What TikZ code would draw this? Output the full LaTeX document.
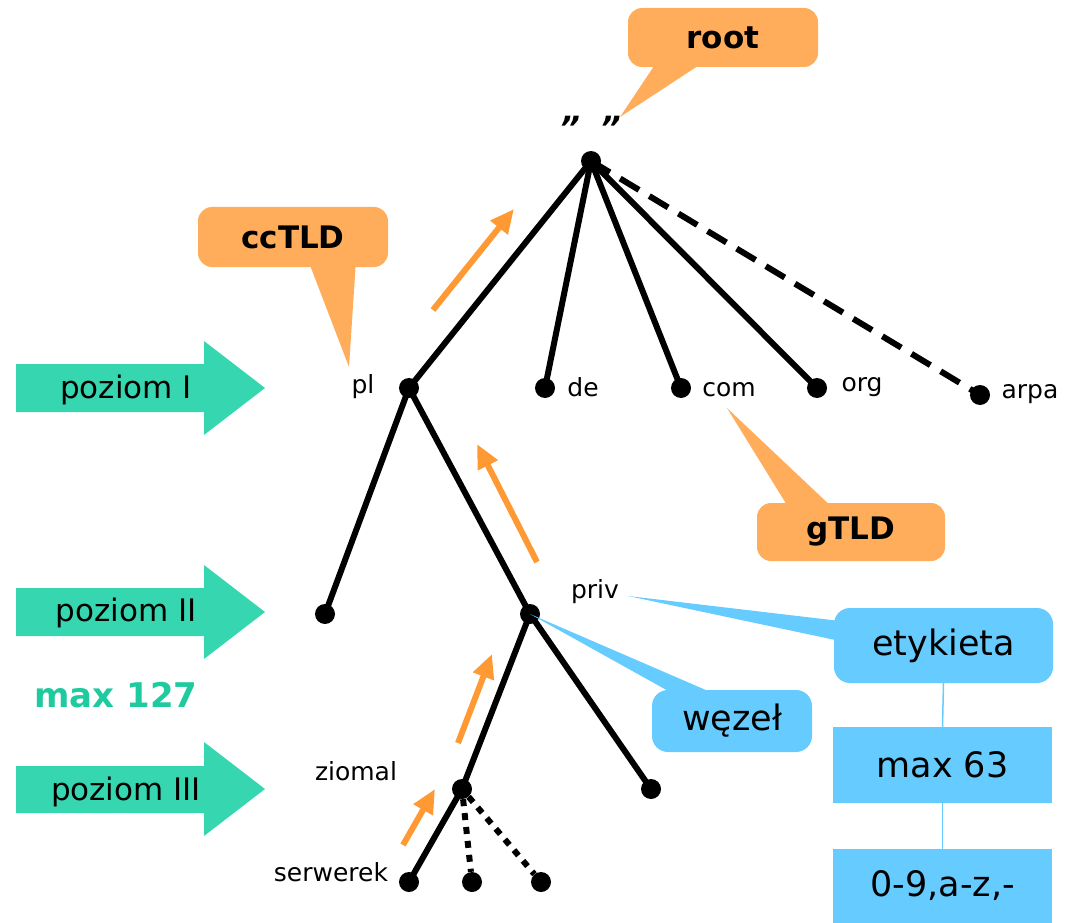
\documentclass[tikz,border=0pt]{standalone}
\usepackage{fontspec}
\setmainfont{DejaVu Sans}
\usetikzlibrary{arrows.meta}
\definecolor{calloutorange}{HTML}{FFAD5B}
\definecolor{arroworange}{HTML}{FF9933}
\definecolor{levelgreen}{HTML}{36D7B0}
\definecolor{textgreen}{HTML}{1FCB9E}
\definecolor{noteblue}{HTML}{66CCFF}
\begin{document}
\begin{tikzpicture}[x=1pt,y=-1pt,
  dot/.style={circle,fill=black,inner sep=0pt,minimum size=20pt},
  edge/.style={line width=6pt},
  dashededge/.style={line width=6pt,dash pattern=on 22pt off 12pt},
  dottededge/.style={line width=6pt,dash pattern=on 7pt off 7pt},
  lbl/.style={font=\fontsize{25}{25}\selectfont,inner sep=0pt},
  uparrow/.style={arroworange,line width=6pt,-{Triangle[length=24pt,width=21pt]}},
  obox/.style={fill=calloutorange,rounded corners=14pt,inner sep=0pt,
    font=\bfseries\fontsize{31}{31}\selectfont},
  bbox/.style={fill=noteblue,inner sep=0pt,font=\fontsize{35}{35}\selectfont},
  leveltext/.style={inner sep=0pt,font=\fontsize{31}{31}\selectfont},
  link/.style={noteblue,line width=1.5pt}
]
\useasboundingbox (0,0) rectangle (1077,923);

% level arrows
\fill[levelgreen] (16,364) -- (204,364) -- (204,341) -- (265,388) -- (204,435) -- (204,412) -- (16,412) -- cycle;
\fill[levelgreen] (16,588) -- (204,588) -- (204,565) -- (265,612) -- (204,659) -- (204,636) -- (16,636) -- cycle;
\fill[levelgreen] (16,766) -- (204,766) -- (204,742) -- (265,789) -- (204,836) -- (204,813) -- (16,813) -- cycle;
\node[leveltext] (lvl1) at (126,390) {poziom I};
\node[leveltext] (lvl2) at (126,613) {poziom II};
\node[leveltext] (lvl3) at (126,792) {poziom III};
\node[inner sep=0pt,text=textgreen,font=\bfseries\fontsize{34}{34}\selectfont] (max127) at (116,695) {max 127};

% tree nodes
\node[dot] (root) at (591,161) {};
\node[dot] (pl) at (409,388) {};
\node[dot] (de) at (545,388) {};
\node[dot] (com) at (681,388) {};
\node[dot] (org) at (817,388) {};
\node[dot] (arpa) at (980,395) {};
\node[dot] (plleft) at (325,614) {};
\node[dot] (priv) at (530,614) {};
\node[dot] (ziomal) at (462,789) {};
\node[dot] (privright) at (651,789) {};
\node[dot] (serwerek) at (409,882) {};
\node[dot] (leafb) at (472,882) {};
\node[dot] (leafc) at (541,882) {};

% tree edges
\draw[edge] (root.center) -- (pl.center);
\draw[edge] (root.center) -- (de.center);
\draw[edge] (root.center) -- (com.center);
\draw[edge] (root.center) -- (org.center);
\draw[dashededge] (root.center) -- (arpa.center);
\draw[edge] (pl.center) -- (plleft.center);
\draw[edge] (pl.center) -- (priv.center);
\draw[edge] (priv.center) -- (ziomal.center);
\draw[edge] (priv.center) -- (privright.center);
\draw[edge] (ziomal.center) -- (serwerek.center);
\draw[dottededge] (ziomal) -- (leafb);
\draw[dottededge] (ziomal) -- (leafc);

% labels
\node[inner sep=0pt,font=\bfseries\itshape\fontsize{32}{32}\selectfont] (quotes) at (590,128) {"\hspace{20pt}"};
\node[lbl] (lpl) at (363,387) {pl};
\node[lbl] (lde) at (583,387) {de};
\node[lbl] (lcom) at (729,390) {com};
\node[lbl] (lorg) at (862,387) {org};
\node[lbl] (larpa) at (1030,394) {arpa};
\node[lbl] (lpriv) at (595,592) {priv};
\node[lbl] (lziomal) at (356,771) {ziomal};
\node[lbl] (lserwerek) at (331,872) {serwerek};

% upward arrows
\coordinate (a1s) at (433,310); \coordinate (a1e) at (514,209);
\coordinate (a2s) at (537,562); \coordinate (a2e) at (477,444);
\coordinate (a3s) at (458,743); \coordinate (a3e) at (492,654);
\coordinate (a4s) at (403,845); \coordinate (a4e) at (435,789);
\draw[uparrow] (a1s) -- (a1e);
\draw[uparrow] (a2s) -- (a2e);
\draw[uparrow] (a3s) -- (a3e);
\draw[uparrow] (a4s) -- (a4e);

% orange callouts
\coordinate (rootTip) at (620,117);
\fill[calloutorange] (658,60) -- (707,60) -- (rootTip) -- cycle;
\node[obox,minimum width=190pt,minimum height=59pt] (rootbox) at (723,37.5) {root};

\coordinate (ccTip) at (349,367);
\fill[calloutorange] (308,260) -- (356,260) -- (ccTip) -- cycle;
\node[obox,minimum width=190pt,minimum height=60pt] (ccbox) at (293,237) {ccTLD};

\coordinate (gTip) at (727,408);
\fill[calloutorange] (790,510) -- (835,510) -- (gTip) -- cycle;
\node[obox,minimum width=188pt,minimum height=58pt] (gbox) at (851,532) {gTLD};

% blue callouts and boxes
\coordinate (etTip) at (628,596);
\fill[noteblue] (840,621) -- (840,641) -- (etTip) -- cycle;
\node[bbox,rounded corners=16pt,minimum width=219pt,minimum height=75pt] (etbox) at (943.5,645.5) {etykieta};

\fill[noteblue] (679,697) -- (722,697) -- (priv.center) -- cycle;
\node[bbox,rounded corners=16pt,minimum width=160pt,minimum height=62pt] (wbox) at (732,721) {węzeł};

\node[bbox,minimum width=219pt,minimum height=76pt] (maxbox) at (942.5,765) {max 63};
\node[bbox,minimum width=219pt,minimum height=74pt] (charbox) at (942.5,886) {0-9,a-z,-};
\draw[link] (etbox.south) -- (maxbox.north);
\draw[link] (maxbox.south) -- (charbox.north);
\end{tikzpicture}
\end{document}
